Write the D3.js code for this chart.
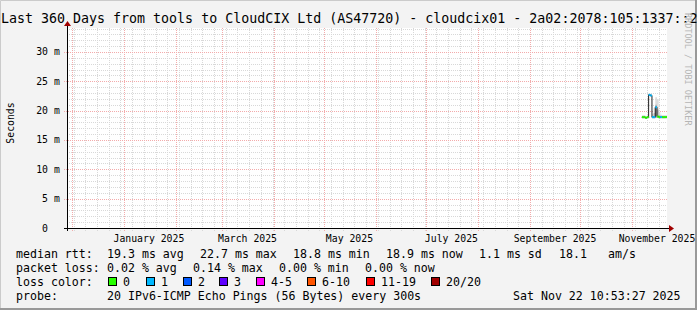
<!DOCTYPE html>
<html>
<head>
<meta charset="utf-8">
<script src="https://cdn.jsdelivr.net/npm/d3@7"></script>
<style>
  body { margin: 0; background: #f3f3f3; }
  text { font-family: "DejaVu Sans Mono", monospace; fill: #000; }
</style>
</head>
<body>
<div id="chart"></div>
<script>
// daily consolidated samples (only the last couple of weeks hold data)
var days = ["2025-11-07", "2025-11-08", "2025-11-09", "2025-11-10", "2025-11-11",
            "2025-11-12", "2025-11-13", "2025-11-14", "2025-11-15", "2025-11-16",
            "2025-11-17", "2025-11-18", "2025-11-19", "2025-11-20", "2025-11-21"];
var medianMs  = [18.9, 18.9, 18.8, 18.9, 22.7, 22.6, 18.9, 18.9, 20.6, 19.0, 18.9, 18.9, 18.9, 18.9, 18.9];
var lossPings = [0, 0, 0, 0, 1, 1, 1, 1, 1, 0, 0, 1, 0, 0, 0];
var smokeMin  = [18.7, 18.7, 18.6, 18.7, 22.5, 22.4, 18.7, 18.7, 18.8, 18.8, 18.7, 18.7, 18.7, 18.7, 18.7];
var smokeMid  = [19.0, 19.0, 18.9, 19.0, 22.8, 22.7, 19.1, 19.6, 21.0, 20.2, 19.2, 19.0, 19.0, 19.0, 19.0];
var smokeMax  = [19.2, 19.2, 19.1, 19.2, 22.9, 22.8, 19.4, 20.5, 22.3, 22.0, 19.8, 19.3, 19.2, 19.2, 19.2];

var yTicks = [0, 5, 10, 15, 20, 25, 30];
var lossLabels = ["0", "1", "2", "3", "4-5", "6-10", "11-19", "20/20"];
var lossColors = ["#26ff00", "#00b8ff", "#0059ff", "#5e00ff", "#ff00ff", "#ff5500", "#ff0000", "#a10000"];

var W = 697, H = 310;
var margin = { top: 28, left: 67, right: 30, bottom: 82 };

var svg = d3.select("#chart").append("svg")
  .attr("width", W)
  .attr("height", H);

svg.append("rect").attr("width", W).attr("height", H).attr("fill", "#f3f3f3");
// frame
svg.append("path").attr("d", "M0.5," + (H - 1) + "V0.5H" + (W - 1)).attr("stroke", "#cbcbcb").attr("fill", "none");
svg.append("path").attr("d", "M" + (W - 1) + ",0V" + (H - 1) + "H0").attr("stroke", "#999").attr("stroke-width", 2).attr("fill", "none");

// scales
var xScale = d3.scaleUtc()
  .domain([new Date(Date.UTC(2024, 10, 28)), new Date(Date.UTC(2025, 10, 22))])
  .range([margin.left, W - margin.right]);
var yScale = d3.scaleLinear()
  .domain([0, 34.09])
  .range([H - margin.bottom, margin.top]);

var x0 = margin.left, x1 = W - margin.right;
var yTop = margin.top, yBot = H - margin.bottom;

// plot canvas
svg.append("rect")
  .attr("x", x0).attr("y", yTop)
  .attr("width", x1 - x0).attr("height", yBot - yTop)
  .attr("fill", "#fff");

var grid = svg.append("g").attr("fill", "none").attr("stroke-dasharray", "1,1");

// minor grid: weeks and every ms
var weeks = d3.utcMonday.range(xScale.domain()[0], xScale.domain()[1]);
grid.selectAll(".vminor").data(weeks).enter().append("line")
  .attr("x1", d => Math.round(xScale(d)) + 0.5).attr("x2", d => Math.round(xScale(d)) + 0.5)
  .attr("y1", yTop).attr("y2", yBot + 3)
  .attr("stroke", "#d8d8d8");
grid.selectAll(".hminor").data(d3.range(1, 35).filter(v => v % 5 !== 0)).enter().append("line")
  .attr("x1", x0).attr("x2", x1)
  .attr("y1", d => Math.round(yScale(d)) + 0.5).attr("y2", d => Math.round(yScale(d)) + 0.5)
  .attr("stroke", "#d8d8d8");

// major grid: months and every 5 ms
var months = d3.utcMonth.range(xScale.domain()[0], xScale.domain()[1]);
grid.selectAll(".vmajor").data(months).enter().append("line")
  .attr("x1", d => Math.round(xScale(d)) + 0.5).attr("x2", d => Math.round(xScale(d)) + 0.5)
  .attr("y1", yTop).attr("y2", yBot + 3)
  .attr("stroke", "#f3abab");
grid.selectAll(".hmajor").data(yTicks.filter(v => v > 0)).enter().append("line")
  .attr("x1", x0 - 3).attr("x2", x1)
  .attr("y1", d => Math.round(yScale(d)) + 0.5).attr("y2", d => Math.round(yScale(d)) + 0.5)
  .attr("stroke", "#f3abab");

// smoke
var pts = days.map((d, i) => ({
  t: new Date(d + "T00:00:00Z"), med: medianMs[i], loss: lossPings[i],
  lo: smokeMin[i], mid: smokeMid[i], hi: smokeMax[i]
}));
var last = pts[pts.length - 1];
var stepPts = pts.concat([Object.assign({}, last, { t: d3.utcDay.offset(last.t, 1) })]);

var outer = d3.area().curve(d3.curveStepAfter)
  .x(d => xScale(d.t)).y0(d => yScale(d.lo)).y1(d => yScale(d.hi));
var inner = d3.area().curve(d3.curveStepAfter)
  .x(d => xScale(d.t)).y0(d => yScale(d.lo)).y1(d => yScale(d.mid));
svg.append("path").datum(stepPts).attr("d", outer).attr("fill", "#dcdcdc");
svg.append("path").datum(stepPts).attr("d", inner).attr("fill", "#b4b4b4");

// median line (thin dark step line + loss coloured segments)
var medLine = d3.line().curve(d3.curveStepAfter)
  .x(d => xScale(d.t)).y(d => yScale(d.med));
svg.append("path").datum(stepPts).attr("d", medLine)
  .attr("fill", "none").attr("stroke", "#202020").attr("stroke-width", 1);

function lossIndex(n) {
  if (n <= 3) return n;
  if (n <= 5) return 4;
  if (n <= 10) return 5;
  if (n <= 19) return 6;
  return 7;
}
svg.selectAll(".seg").data(pts).enter().append("line")
  .attr("x1", d => xScale(d.t))
  .attr("x2", d => xScale(d3.utcDay.offset(d.t, 1)))
  .attr("y1", d => yScale(d.med)).attr("y2", d => yScale(d.med))
  .attr("stroke", d => lossColors[lossIndex(d.loss)])
  .attr("stroke-width", 2);

// axes
svg.append("line").attr("x1", x0 - 3).attr("x2", x1 + 3)
  .attr("y1", yBot + 0.5).attr("y2", yBot + 0.5).attr("stroke", "#000");
svg.append("line").attr("x1", x0 + 0.5).attr("x2", x0 + 0.5)
  .attr("y1", yBot + 3).attr("y2", yTop - 3).attr("stroke", "#000");
svg.append("path").attr("d", `M${x1 + 2},${yBot - 3}L${x1 + 7},${yBot + 0.5}L${x1 + 2},${yBot + 4}Z`).attr("fill", "#a00000");
svg.append("path").attr("d", `M${x0 - 3},${yTop - 2}L${x0 + 0.5},${yTop - 7}L${x0 + 4},${yTop - 2}Z`).attr("fill", "#a00000");

// y labels
var yl = svg.append("g").style("font-size", "9.8px");
yl.selectAll(".yn").data(yTicks).enter().append("text")
  .attr("x", 48).attr("y", d => yScale(d) + 3.5)
  .attr("text-anchor", "end")
  .text(d => d);
yl.selectAll(".yu").data(yTicks.filter(v => v > 0)).enter().append("text")
  .attr("x", 54).attr("y", d => yScale(d) + 3.5)
  .text("m");

// x labels every second month
var labelMonths = months.filter(d => d.getUTCMonth() % 2 === 0);
svg.append("g").style("font-size", "9.8px").selectAll("text")
  .data(labelMonths).enter().append("text")
  .attr("x", d => xScale(d3.utcDay.offset(d, 15)))
  .attr("y", yBot + 14)
  .attr("text-anchor", "middle")
  .text(d => d3.utcFormat("%B %Y")(d));

// axis title
svg.append("text")
  .attr("transform", `translate(14, ${(yTop + yBot) / 2 - 5}) rotate(-90)`)
  .attr("text-anchor", "middle")
  .style("font-size", "9.8px")
  .text("Seconds");

// title
svg.append("text")
  .attr("x", 1).attr("y", 23)
  .style("font-size", "13.3px")
  .text("Last 360 Days from tools to CloudCIX Ltd (AS47720) - cloudcix01 - 2a02:2078:105:1337::2");

// watermark
svg.append("text")
  .attr("transform", "translate(685, 13) rotate(90)")
  .style("font-size", "8.5px")
  .style("fill", "#b5b5b5")
  .text("RRDTOOL / TOBI OETIKER");

// legend
var leg = svg.append("g").style("font-size", "11.6px");
function put(x, y, s) { leg.append("text").attr("x", x).attr("y", y).text(s); }
put(16, 258, "median rtt:");
put(107, 258, "19.3 ms avg");
put(200, 258, "22.7 ms max");
put(293, 258, "18.8 ms min");
put(386, 258, "18.9 ms now");
put(479, 258, "1.1 ms sd");
put(559, 258, "18.1");
put(608, 258, "am/s");

put(16, 272, "packet loss:");
put(107, 272, "0.02 % avg");
put(193, 272, "0.14 % max");
put(279, 272, "0.00 % min");
put(365, 272, "0.00 % now");

put(16, 286, "loss color:");
var boxX = [108, 146, 183, 219, 256, 307, 366, 431];
lossLabels.forEach(function(lab, i) {
  leg.append("rect")
    .attr("x", boxX[i] + 0.5).attr("y", 277.5)
    .attr("width", 8).attr("height", 8)
    .attr("fill", lossColors[i]).attr("stroke", "#000");
  put(boxX[i] + 15, 286, lab);
});

put(16, 300, "probe:");
put(107, 300, "20 IPv6-ICMP Echo Pings (56 Bytes) every 300s");
put(513, 300, "Sat Nov 22 10:53:27 2025");
</script>
</body>
</html>
